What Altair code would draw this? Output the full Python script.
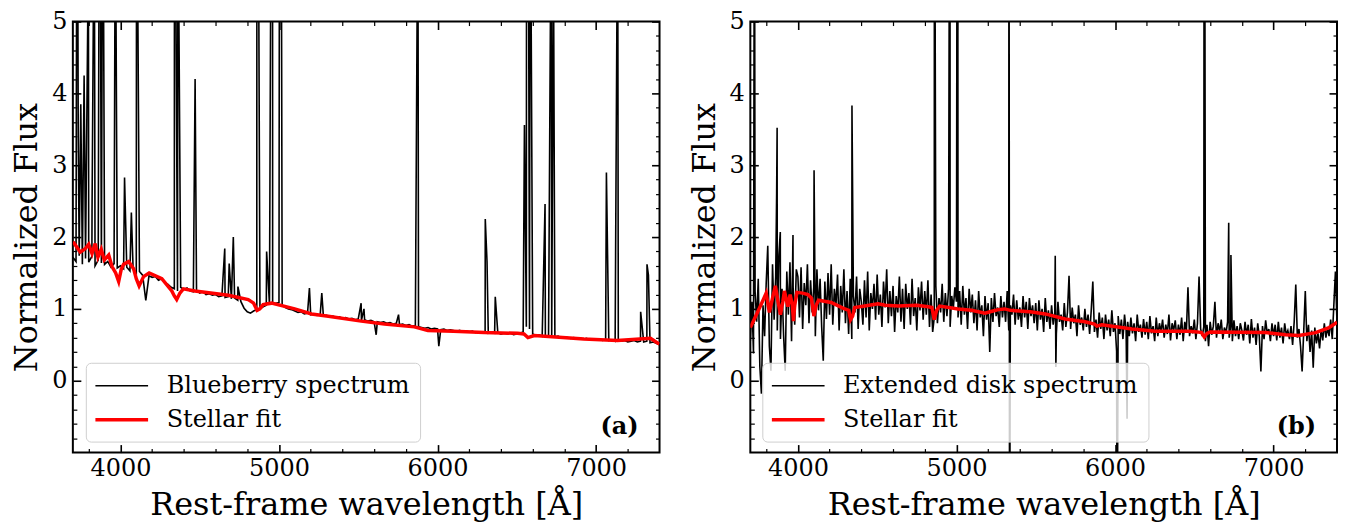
import altair as alt
import pandas as pd

FONT = "DejaVu Serif"

# ---------------- axes ----------------
X_DOMAIN = [3700, 7400]
Y_DOMAIN = [-1, 5]
X_MAJOR = [4000, 5000, 6000, 7000]
X_MINOR = [3800, 4200, 4400, 4600, 4800, 5200, 5400, 5600, 5800, 6200, 6400, 6600, 6800, 7200]
Y_MAJOR = [0, 1, 2, 3, 4, 5]
Y_MINOR = [-0.8, -0.6, -0.4, -0.2, 0.2, 0.4, 0.6, 0.8, 1.2, 1.4, 1.6, 1.8,
           2.2, 2.4, 2.6, 2.8, 3.2, 3.4, 3.6, 3.8, 4.2, 4.4, 4.6, 4.8]

SPEC_LABELS = ["Blueberry spectrum", "Extended disk spectrum"]
FIT_LABEL = "Stellar fit"
PANEL_TAGS = ["(a)", "(b)"]
TAG_POS = [7268, -0.65]

# ---------------- panel (a): Blueberry ----------------
A_GRID_START, A_GRID_STEP = 3700, 20
A_CONT = [
    1.72, 1.66, 1.74, 1.62, 1.70, 1.65, 1.73, 1.60, 1.68, 1.64,
    1.62, 1.66, 1.58, 1.63, 1.57, 1.60, 1.56, 1.58, 1.53, 1.55,
    1.50, 1.52, 1.47, 1.12, 1.46, 1.44, 1.45, 1.40, 1.42, 1.37,
    1.34, 1.30, 1.28, 1.25, 1.30, 1.27, 1.29, 1.25, 1.24, 1.26,
    1.22, 1.24, 1.20, 1.21, 1.19, 1.20, 1.17, 1.18, 1.16, 1.17,
    1.14, 1.15, 1.12, 1.10, 1.01, 0.96, 0.94, 0.97, 0.99, 1.00,
    1.03, 1.05, 1.06, 1.07, 1.08, 1.09, 1.05, 1.02, 1.00, 0.99,
    0.97, 0.95, 0.96, 0.93, 0.94, 0.92, 0.93, 0.91, 0.92, 0.90,
    0.91, 0.89, 0.90, 0.88, 0.89, 0.87, 0.88, 0.86, 0.87, 0.85,
    0.86, 0.84, 0.85, 0.83, 0.84, 0.82, 0.82, 0.81, 0.82, 0.80,
    0.81, 0.79, 0.80, 0.78, 0.79, 0.77, 0.78, 0.76, 0.77, 0.75,
    0.74, 0.73, 0.74, 0.72, 0.73, 0.72, 0.71, 0.72, 0.70, 0.71,
    0.70, 0.69, 0.70, 0.68, 0.69, 0.68, 0.69, 0.67, 0.68, 0.67,
    0.68, 0.66, 0.67, 0.66, 0.67, 0.65, 0.66, 0.65, 0.66, 0.64,
    0.65, 0.66, 0.68, 0.75, 0.72, 0.65, 0.63, 0.64, 0.62, 0.63,
    0.62, 0.63, 0.61, 0.62, 0.60, 0.61, 0.60, 0.59, 0.60, 0.58,
    0.59, 0.58, 0.59, 0.57, 0.58, 0.57, 0.58, 0.56, 0.57, 0.56,
    0.57, 0.55, 0.56, 0.55, 0.56, 0.54, 0.55, 0.56, 0.54, 0.55,
    0.54, 0.55, 0.53, 0.54, 0.52, 0.50,
]
A_LINE_WAVE = [3727, 3734, 3750, 3771, 3798, 3821, 3835, 3869, 3889, 3968,
               4026, 4069, 4102, 4341, 4363, 4471, 4658, 4686, 4712, 4741,
               4861, 4922, 4959, 5007, 5192, 5270, 5518, 5536, 5613, 5754,
               5876, 6008, 6301, 6312, 6364, 6548, 6563, 6584, 6678, 6717,
               6731, 7065, 7136, 7281, 7321, 7330]
A_LINE_FLUX = [9.0, 3.4, 3.85, 4.25, 6.0, 2.35, 7.0, 9.0, 8.0, 7.0,
               2.83, 2.34, 8.0, 9.0, 7.0, 4.2, 1.84, 1.63, 2.0, 1.31,
               12.0, 1.8, 12.0, 15.0, 1.29, 1.22, 1.08, 1.0, 0.64, 0.92,
               7.0, 0.48, 2.25, 1.66, 1.17, 3.56, 15.0, 8.0, 2.46, 7.0,
               6.0, 2.9, 7.0, 0.96, 1.62, 1.47]
A_FIT_WAVE = [3700, 3706, 3747, 3779, 3800, 3821, 3841, 3858, 3879, 3898,
              3926, 3947, 3970, 3989, 4005, 4020, 4052, 4083, 4100, 4118,
              4146, 4181, 4261, 4324, 4340, 4355, 4375, 4397, 4470, 4681,
              4806, 4840, 4862, 4879, 4900, 4953, 5099, 5205, 5300, 5519,
              5665, 5854, 5939, 6100, 6295, 6505, 6545, 6570, 6610, 6923,
              7134, 7343, 7385, 7400]
A_FIT_FLUX = [1.93, 1.92, 1.79, 1.84, 1.90, 1.77, 1.91, 1.72, 1.83, 1.68,
              1.75, 1.59, 1.50, 1.38, 1.55, 1.62, 1.66, 1.56, 1.42, 1.32,
              1.45, 1.50, 1.42, 1.25, 1.18, 1.13, 1.22, 1.28, 1.25, 1.19,
              1.13, 1.08, 0.98, 1.00, 1.06, 1.08, 1.00, 0.93, 0.90, 0.83,
              0.79, 0.75, 0.70, 0.69, 0.67, 0.66, 0.65, 0.60, 0.63, 0.58,
              0.56, 0.59, 0.53, 0.51]

# ---------------- panel (b): extended disk ----------------
B_GRID_START, B_GRID_STEP = 3700, 10
B_CONT = [
    0.55, 1.10, 0.38, 1.25, 0.82, 1.42, 0.20, -0.18, 1.05, 0.62,
    1.35, 1.88, 0.48, 0.14, 1.62, 0.85, 1.45, 0.70, 1.75, 0.58,
    1.28, 0.62, 0.14, 1.52, 0.92, 1.65, 0.55, 1.30, 0.78, 1.55,
    1.45, 0.88, 1.58, 0.72, 1.36, 1.05, 1.62, 0.80, 1.40, 0.95,
    1.30, 0.62, 1.55, 0.98, 1.42, 0.75, 0.28, 1.38, 0.86, 1.50,
    0.92, 1.62, 0.78, 1.28, 1.05, 1.48, 0.70, 1.32, 0.95, 1.55,
    0.80, 1.25, 0.65, 1.42, 0.58, 1.18, 0.95, 1.45, 0.72, 1.28,
    1.10, 0.78, 1.40, 0.88, 1.52, 0.70, 1.22, 1.00, 1.35, 0.85,
    1.48, 0.92, 1.20, 0.75, 1.38, 1.02, 1.55, 0.80, 1.25, 0.90,
    1.32, 0.68, 1.18, 0.95, 1.45, 0.82, 1.28, 0.72, 1.35, 1.00,
    1.22, 0.78, 1.42, 0.90, 1.15, 0.70, 1.30, 0.98, 1.38, 0.85,
    1.25, 0.92, 1.40, 0.75, 1.20, 0.68, 0.88, 1.32, 0.80, 1.15,
    0.95, 1.35, 0.82, 1.22, 0.90, 1.28, 0.75, 1.18, 1.00, 1.30,
    1.10, 0.88, 1.25, 0.78, 1.32, 0.92, 1.15, 0.72, 1.28, 0.95,
    1.20, 0.80, 1.12, 0.70, 1.25, 0.88, 1.05, 0.62, 1.18, 0.85,
    1.08, 0.40, 1.15, 0.82, 1.22, 0.90, 1.02, 0.75, 1.18, 0.88,
    1.10, 0.82, 1.25, 0.70, 1.05, 0.92, 1.20, 0.78, 1.12, 0.85,
    1.02, 0.75, 1.18, 0.88, 1.10, 0.72, 1.15, 0.90, 1.05, 0.80,
    1.08, 0.70, 1.12, 0.85, 1.00, 0.68, 1.15, 0.82, 0.98, 0.72,
    1.05, 0.78, 0.95, 0.65, 1.10, 0.82, 0.92, 0.70, 1.08, 0.75,
    0.95, 1.46, 0.72, 1.02, 0.80, 0.92, 0.62, 1.05, 0.78, 0.88,
    0.70, 1.00, 0.75, 0.92, 0.65, 0.98, 1.38, 0.68, 0.85, 0.60,
    0.95, 0.72, 0.88, 0.58, 0.92, 0.70, 0.85, 0.62, 0.98, 0.68,
    0.80, 0.41, 0.90, 0.65, 0.85, 0.58, 0.92, 0.70, 0.82, 0.62,
    0.88, 0.66, 0.80, 0.55, 0.92, 0.68, 0.78, 0.60, 0.86, 0.64,
    0.82, 0.58, 0.90, 0.66, 0.76, 0.55, 0.88, 0.62, 0.80, 0.68,
    0.85, 0.60, 0.78, 0.65, 0.92, 0.56, 0.80, 0.70, 0.84, 0.58,
    0.78, 0.64, 0.88, 0.55, 0.82, 0.68, 1.30, 0.62, 0.76, 0.66,
    0.85, 0.58, 0.80, 1.45, 0.72, 0.62, 0.75, 0.55, 0.78, 0.48,
    0.82, 0.64, 0.76, 1.10, 0.60, 0.80, 0.68, 0.85, 0.58, 0.74,
    0.66, 0.82, 0.60, 0.78, 0.55, 0.84, 0.62, 0.76, 0.58, 0.80,
    0.70, 0.56, 0.82, 0.64, 0.78, 0.52, 0.86, 0.60, 0.74, 0.50,
    0.80, 0.62, 0.13, 0.76, 0.58, 0.84, 0.66, 0.72, 0.55, 0.80,
    0.62, 0.78, 0.56, 0.82, 0.60, 0.74, 0.52, 0.80, 0.64, 0.70,
    0.58, 0.76, 0.50, 0.82, 1.34, 0.60, 0.72, 0.48, 0.13, 0.68,
    1.25, 0.55, 0.78, 0.40, 0.70, 0.18, 0.74, 0.52, 0.66, 0.45,
    0.72, 0.56, 0.80, 0.60, 0.74, 0.62, 0.85, 0.58, 1.05, 1.52,
    0.80,
]
B_LINE_WAVE = [3726, 3866, 3869, 3889, 3969, 4102, 4341, 4861, 4959, 5007,
               5331, 5335, 5623, 5627, 6013, 6076, 6563, 6717, 6731]
B_LINE_FLUX = [8.0, 2.62, 3.52, 2.07, 2.03, 2.93, 3.83, 9.0, 10.0, 12.0,
               9.0, -3.0, 1.74, 0.19, -3.0, -0.53, 12.0, 2.2, 1.75]
B_FIT_WAVE = [3700, 3730, 3768, 3800, 3820, 3840, 3858, 3875, 3890, 3905,
              3915, 3937, 3951, 3965, 3972, 3980, 3994, 4030, 4063, 4085,
              4101, 4115, 4130, 4210, 4284, 4320, 4332, 4345, 4358, 4421,
              4506, 4550, 4632, 4750, 4822, 4845, 4860, 4875, 4895, 5011,
              5095, 5180, 5230, 5264, 5304, 5340, 5464, 5560, 5685, 5811,
              5870, 5885, 5917, 6107, 6254, 6466, 6518, 6545, 6563, 6580,
              6601, 6949, 7075, 7160, 7265, 7350, 7392, 7400]
B_FIT_FLUX = [0.74, 0.88, 1.06, 1.22, 0.95, 1.15, 1.32, 1.10, 0.92, 1.10,
              1.25, 1.03, 1.20, 1.05, 0.83, 1.05, 1.23, 1.22, 1.20, 1.15,
              0.90, 1.05, 1.12, 1.09, 1.01, 0.98, 0.85, 0.90, 1.02, 1.04,
              1.07, 1.05, 1.04, 1.05, 1.03, 1.02, 0.85, 0.98, 1.04, 1.00,
              0.98, 0.94, 0.97, 0.99, 1.00, 0.98, 0.96, 0.93, 0.86, 0.82,
              0.79, 0.76, 0.78, 0.72, 0.69, 0.69, 0.68, 0.67, 0.61, 0.66,
              0.68, 0.67, 0.64, 0.63, 0.67, 0.74, 0.80, 0.82]


def spectrum_frame(start, step, cont, line_wave, line_flux, label):
    wave = [start + step * i for i in range(len(cont))]
    df = pd.DataFrame({"lam": wave + list(line_wave), "flux": list(cont) + list(line_flux)})
    df = df.sort_values("lam", kind="stable").reset_index(drop=True)
    df["series"] = label
    return df


def fit_frame(wave, flux):
    return pd.DataFrame({"lam": wave, "flux": flux, "series": FIT_LABEL})


XS = alt.Scale(domain=X_DOMAIN, nice=False, zero=False)
YS = alt.Scale(domain=Y_DOMAIN, nice=False, zero=False)


def axis(orient, values, size, width, labels=False, title=None, **kw):
    return alt.Axis(orient=orient, values=values, tickSize=size, offset=-size,
                    tickWidth=width, tickColor="black", labels=labels, title=title,
                    domain=False, grid=False, labelFlush=False, labelOverlap=False, **kw)


def panel(spec_df, fit_df, label, tag, legend_x):
    leg = alt.Legend(title=None, orient="none", legendX=legend_x, legendY=342,
                     symbolType="M-2.2,0L2.2,0", symbolSize=576, symbolOffset=12,
                     labelFont=FONT, labelFontSize=24, labelColor="black", labelOffset=31,
                     labelLimit=500, rowPadding=8, padding=10,
                     fillColor="rgba(255,255,255,0.8)", strokeColor="#cfcfcf",
                     cornerRadius=5)
    color = alt.Color("series:N", scale=alt.Scale(domain=[label, FIT_LABEL], range=["black", "red"]),
                      legend=leg)
    sw = alt.StrokeWidth("series:N", scale=alt.Scale(domain=[label, FIT_LABEL], range=[1.6, 3.5]),
                         legend=leg)

    x_main = alt.X("lam:Q", scale=XS,
                   axis=axis("bottom", X_MAJOR, 8, 1.6, labels=True, format="d",
                             title="Rest-frame wavelength [Å]", labelPadding=4, titlePadding=9))
    y_main = alt.Y("flux:Q", scale=YS,
                   axis=axis("left", Y_MAJOR, 8, 1.6, labels=True,
                             title="Normalized Flux", labelPadding=6, titlePadding=8))

    spec = alt.Chart(spec_df).mark_line(clip=True).encode(
        x=x_main, y=y_main, color=color, strokeWidth=sw)
    fit = alt.Chart(fit_df).mark_line(clip=True).encode(
        x=alt.X("lam:Q", scale=XS, axis=axis("top", X_MAJOR, 8, 1.6)),
        y=alt.Y("flux:Q", scale=YS, axis=axis("right", Y_MAJOR, 8, 1.6)),
        color=color, strokeWidth=sw)
    minor1 = alt.Chart(fit_df).mark_line(clip=True, opacity=0).encode(
        x=alt.X("lam:Q", scale=XS, axis=axis("bottom", X_MINOR, 4, 1.2)),
        y=alt.Y("flux:Q", scale=YS, axis=axis("left", Y_MINOR, 4, 1.2)))
    minor2 = alt.Chart(fit_df).mark_line(clip=True, opacity=0).encode(
        x=alt.X("lam:Q", scale=XS, axis=axis("top", X_MINOR, 4, 1.2)),
        y=alt.Y("flux:Q", scale=YS, axis=axis("right", Y_MINOR, 4, 1.2)))
    tag_df = pd.DataFrame({"lam": [TAG_POS[0]], "flux": [TAG_POS[1]], "txt": [tag]})
    txt = alt.Chart(tag_df).mark_text(align="right", baseline="middle", font=FONT,
                                      fontSize=24, fontWeight="bold", color="black").encode(
        x=alt.X("lam:Q", scale=XS, axis=None),
        y=alt.Y("flux:Q", scale=YS, axis=None),
        text="txt:N")
    return alt.layer(spec, fit, minor1, minor2, txt).resolve_axis(
        x="independent", y="independent").properties(width=588, height=432)


pa = panel(spectrum_frame(A_GRID_START, A_GRID_STEP, A_CONT, A_LINE_WAVE, A_LINE_FLUX, SPEC_LABELS[0]),
           fit_frame(A_FIT_WAVE, A_FIT_FLUX), SPEC_LABELS[0], PANEL_TAGS[0], 13)
pb = panel(spectrum_frame(B_GRID_START, B_GRID_STEP, B_CONT, B_LINE_WAVE, B_LINE_FLUX, SPEC_LABELS[1]),
           fit_frame(B_FIT_WAVE, B_FIT_FLUX), SPEC_LABELS[1], PANEL_TAGS[1], 12)

chart = alt.hconcat(pa, pb, spacing=25).resolve_scale(
    color="independent", strokeWidth="independent"
).resolve_legend(
    color="independent", strokeWidth="independent"
).properties(
    padding={"left": 1, "top": 0, "right": 0, "bottom": 0},
    background="white",
).configure_view(stroke="black", strokeWidth=2).configure_axis(
    labelFont=FONT, labelFontSize=24, labelColor="black",
    titleFont=FONT, titleFontSize=32, titleFontWeight="normal", titleColor="black",
)

chart.save("out.html", embed_options={"renderer": "svg", "actions": False})
